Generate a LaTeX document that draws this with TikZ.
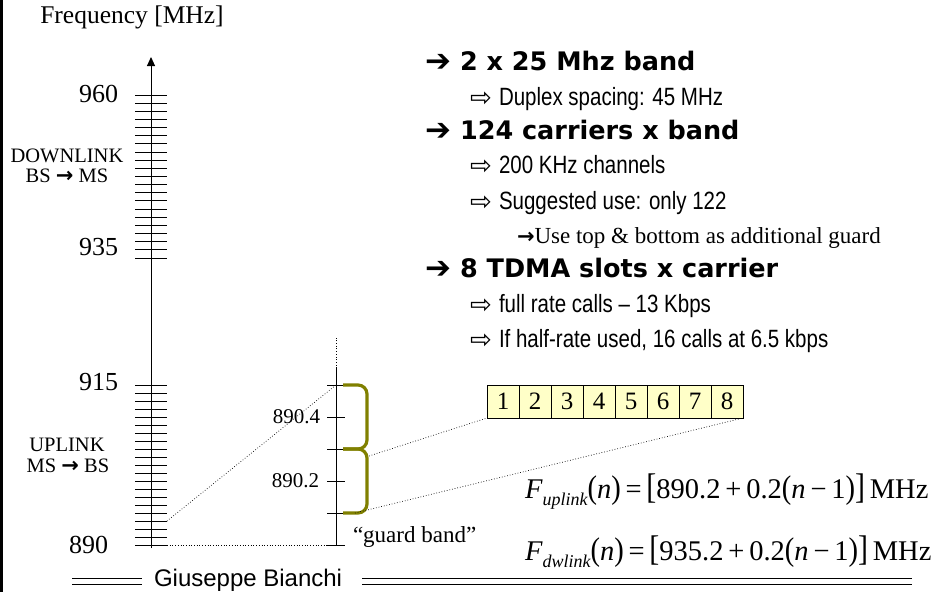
\documentclass[tikz,border=0pt]{standalone}
\usepackage{fontspec}
\setmainfont{Liberation Serif}
\newfontfamily\verd{DejaVu Sans}
\newfontfamily\narrowf[FakeStretch=0.82]{Liberation Sans}
\newfontfamily\arialf{Liberation Sans}
\usetikzlibrary{arrows.meta}
\definecolor{olivebr}{HTML}{808000}
\definecolor{slotfill}{HTML}{FFFFC8}
\newcommand{\fs}[1]{\fontsize{#1}{#1}\selectfont}
\newcommand{\subtxt}[1]{\raisebox{-0.28em}{\fs{18}\itshape #1}}
\newcommand{\bigp}[1]{\scalebox{1}[1.15]{#1}}
\newcommand{\bigb}[1]{\scalebox{1.05}[1.25]{#1}}
\newcommand{\barrow}{{\verd\bfseries\fs{21}→}}
\newcommand{\ms}{\hspace{0.17em}}
\tikzset{
  every node/.style={inner sep=0pt, outer sep=0pt},
  axislbl/.style={font=\fs{26}, anchor=east},
  bandlbl/.style={font=\fs{20.5}},
  smalllbl/.style={font=\fs{21}, anchor=east},
  headarrow/.style={font=\verd\bfseries\fs{31}, anchor=base west},
  headtxt/.style={font=\verd\bfseries\fs{25.5}, anchor=base west},
  subarrow/.style={font=\verd\fs{26}, anchor=base west},
  subtxt/.style={font=\narrowf\fs{25}, anchor=base west},
  tick/.style={line width=1pt},
  slotbox/.style={draw, line width=0.8pt, fill=slotfill, minimum width=32pt, minimum height=33pt, font=\fs{25}},
  brace/.style={draw=olivebr, line width=3.2pt, rounded corners=9pt},
  dotline/.style={dotted, line width=0.7pt},
  formula/.style={font=\fs{28.5}, anchor=base west},
}
\begin{document}
\begin{tikzpicture}[x=1pt,y=-1pt]
\useasboundingbox (0,0) rectangle (944,592);
% left border
\fill (0,0) rectangle (3,592);

% title
\node[font=\fs{25.5}] (title) at (132,17) {Frequency [MHz]};

% big axis
\coordinate (axb) at (151,548);
\coordinate (axt) at (151,57);
\draw[line width=1pt, -{Triangle[width=8pt,length=9pt]}] (axb) -- (axt);
\foreach \k in {0,...,20} {
  \draw[tick] (135,{95+8.15*\k}) -- (167,{95+8.15*\k});
  \draw[tick] (135,{385+8*\k}) -- (167,{385+8*\k});
}
\coordinate (lowtick) at (167,521);
\coordinate (bottick) at (167,545);

\node[axislbl] (l960) at (118,94) {960};
\node[axislbl] (l935) at (118,247) {935};
\node[axislbl] (l915) at (118,382) {915};
\node[axislbl] (l890) at (108,545) {890};
\node[bandlbl, anchor=base] (dl1) at (67,162) {DOWNLINK};
\node[bandlbl, anchor=base] (dl2) at (67,182) {BS \barrow{} MS};
\node[bandlbl, anchor=base] (ul1) at (67,451) {UPLINK};
\node[bandlbl, anchor=base] (ul2) at (68,472) {MS \barrow{} BS};

% small axis
\coordinate (sa0) at (336,545);
\coordinate (sa1) at (336,368);
\coordinate (sa2) at (336,338);
\draw[line width=1pt] (sa0) -- (sa1);
\draw[dotline] (sa1) -- (sa2);
\foreach \y in {385,417,449,481,513} {
  \draw[tick] (327,\y) -- (345,\y);
}
\draw[tick] (327,545) -- (345,545);
\coordinate (s385) at (336,385);
\coordinate (s545) at (327,545);
\node[smalllbl] (l8904) at (320,417) {890.4};
\node[smalllbl] (l8902) at (319,481) {890.2};
\node[font=\fs{23}, anchor=base west] (guard) at (353,542) {“guard band”};

% braces
\draw[brace] (343,385) -- (367,385) -- (367,449) -- (343,449);
\draw[brace] (343,449) -- (367,449) -- (367,513) -- (343,513);
\coordinate (brmid) at (369,456);
\coordinate (brbot) at (355,513);

% slots
\foreach \i in {1,...,8} {
  \node[slotbox] (slot\i) at ({487+16+32*(\i-1)},401.5) {\i};
}

% dotted connectors
\draw[dotline] (lowtick) -- (s385);
\draw[dotline] (bottick) -- (s545);
\draw[dotline] (brmid) -- (slot1.south west);
\draw[dotline] (brbot) -- (slot8.south east);

% right text block
\node[headarrow] (a1) at (425,71) {➔};
\node[headtxt] (h1) at (460,70) {2 x 25 Mhz band};
\node[subarrow] (b1) at (470,106) {⇨};
\node[subtxt] (t1) at (499,105) {Duplex spacing: 45 MHz};
\node[headarrow] (a2) at (425,140) {➔};
\node[headtxt] (h2) at (460,139) {124 carriers x band};
\node[subarrow] (b2) at (470,174) {⇨};
\node[subtxt] (t2) at (499,173) {200 KHz channels};
\node[subarrow] (b3) at (470,210) {⇨};
\node[subtxt] (t3) at (499,209) {Suggested use: only 122};
\node[font=\fs{23}, anchor=base west] (t4) at (517,243) {\barrow{}Use top \& bottom as additional guard};
\node[headarrow] (a3) at (425,278) {➔};
\node[headtxt] (h3) at (460,277) {8 TDMA slots x carrier};
\node[subarrow] (b4) at (470,313) {⇨};
\node[subtxt] (t5) at (499,312) {full rate calls – 13 Kbps};
\node[subarrow] (b5) at (470,348) {⇨};
\node[subtxt] (t6) at (499,347) {If half-rate used, 16 calls at 6.5 kbps};

% formulas
\node[formula] (f1) at (525,498) {\textit{F}\subtxt{uplink}\bigp{(}\textit{n}\bigp{)}\,=\,\bigb{[}890.2\ms+\ms0.2\bigp{(}\textit{n}\ms−\ms1\bigp{)}\bigb{]}\,MHz};
\node[formula] (f2) at (525,560) {\textit{F}\subtxt{dwlink}\bigp{(}\textit{n}\bigp{)}\,=\,\bigb{[}935.2\ms+\ms0.2\bigp{(}\textit{n}\ms−\ms1\bigp{)}\bigb{]}\,MHz};

% footer
\draw[line width=1pt] (72,578) -- (142,578) (72,584) -- (142,584);
\draw[line width=1pt] (362,578) -- (912,578) (362,584) -- (912,584);
\node[font=\arialf\fs{24}, anchor=base west] (footer) at (154,586.5) {Giuseppe Bianchi};
\end{tikzpicture}
\end{document}
